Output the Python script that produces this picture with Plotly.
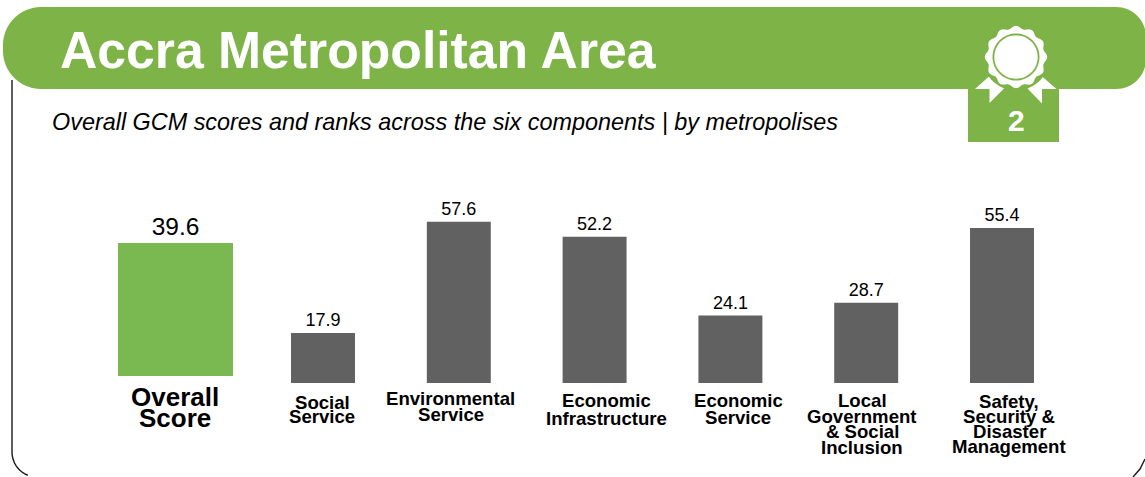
import math
import plotly.graph_objects as go

W, H = 1145, 477

overall_name = "Overall Score"
overall_value = 39.6
categories = [
    "Social Service",
    "Environmental Service",
    "Economic Infrastructure",
    "Economic Service",
    "Local Government & Social Inclusion",
    "Safety, Security & Disaster Management",
]
values = [17.9, 57.6, 52.2, 24.1, 28.7, 55.4]
label_lines = [
    ["Social", "Service"],
    ["Environmental", "Service"],
    ["Economic", "Infrastructure"],
    ["Economic", "Service"],
    ["Local", "Government", "& Social", "Inclusion"],
    ["Safety,", "Security &", "Disaster", "Management"],
]
title_text = "Accra Metropolitan Area"
subtitle_text = "Overall GCM scores and ranks across the six components | by metropolises"
rank = "2"

GREEN = "#7EB348"
BAR_GREEN = "#7AB851"
GREY = "#616161"
FONT = "Liberation Sans"

# Layout in page pixels, converted to paper fractions
px = lambda x: x / W
py = lambda y: 1 - y / H


def pt(x, y):
    return f"{px(x):.5f} {py(y):.5f}"


def path(points, close=True):
    d = "M " + " L ".join(pt(x, y) for x, y in points)
    return d + (" Z" if close else "")


def arc(cx, cy, r, a0, a1, n=16):
    return [(cx + r * math.cos(a0 + (a1 - a0) * i / n),
             cy + r * math.sin(a0 + (a1 - a0) * i / n)) for i in range(n + 1)]


def paper_shape(d, fill=None, line=None, width=0):
    return dict(type="path", xref="paper", yref="paper", path=d,
                fillcolor=fill or "rgba(0,0,0,0)",
                line=dict(color=line or "rgba(0,0,0,0)", width=width))


shapes = []

# Thin frame under the banner, open at the bottom edge of the page
left_frame = [(12, 80), (12, 452)] + arc(37, 452, 25, math.pi, math.pi * 0.62)
shapes.append(paper_shape(path(left_frame, close=False), line="#1a1a1a", width=1.4))
right_frame = [(1133, 477), (1140, 469), (1145, 459)]
shapes.append(paper_shape(path(right_frame, close=False), line="#1a1a1a", width=1.4))

# Banner with rounded ends
r = 38
top, bottom = 7, 89
left, right = 3, 1146
banner = (arc(left + r, top + r, r, math.pi, 1.5 * math.pi)
          + arc(right - 30, top + 30, 30, 1.5 * math.pi, 2 * math.pi)
          + arc(right - 30, bottom - 30, 30, 0, 0.5 * math.pi)
          + arc(left + r, bottom - r, r, 0.5 * math.pi, math.pi))
shapes.append(paper_shape(path(banner), fill=GREEN))

# Rank tab hanging below the banner
shapes.append(paper_shape(path([(968, 88), (1059, 88), (1059, 142), (968, 142)]), fill=GREEN))

# Rosette: two ribbon tails, a scalloped disc and an inner ring
shapes.append(paper_shape(path([(989.5, 76), (975, 89), (989.5, 89), (989.5, 103), (1004, 88.5)]), fill="white"))
shapes.append(paper_shape(path([(1041.5, 76), (1056.5, 89), (1042, 89), (1042, 103.5), (1027.5, 88.5)]), fill="white"))

cx, cy = 1016, 57
halo = [(cx + 33.5 * math.cos(i * math.pi / 60), cy + 33.5 * math.sin(i * math.pi / 60)) for i in range(120)]
shapes.append(paper_shape(path(halo), fill=GREEN))
scallop = []
for i in range(240):
    a = i * 2 * math.pi / 240
    rad = 29.8 + 1.4 * math.cos(12 * a)
    scallop.append((cx + rad * math.cos(a), cy + rad * math.sin(a)))
shapes.append(paper_shape(path(scallop), fill="white"))
ring = arc(cx, cy, 22.6, 0, 2 * math.pi, n=72)
shapes.append(paper_shape(path(ring), line=GREEN, width=1.8))

annotations = []


def page_text(text, x, y, size, color="black", bold=False, italic=False, anchor="left"):
    if bold:
        text = f"<b>{text}</b>"
    if italic:
        text = f"<i>{text}</i>"
    annotations.append(dict(text=text, xref="paper", yref="paper", x=px(x), y=py(y),
                            xanchor=anchor, yanchor="middle", showarrow=False,
                            font=dict(family=FONT, size=size, color=color)))


page_text(title_text, 57.5, 50, 51.7, color="white", bold=True)
page_text(subtitle_text, 50, 122, 23.4, italic=True)
page_text(rank, 1016, 121, 30, color="white", bold=True, anchor="center")

# Overall score caption
page_text("Overall", 175, 397, 26, bold=True, anchor="center")
page_text("Score", 175, 418, 26, bold=True, anchor="center")

# Component captions: one annotation per line for the tight leading
caption_shift = [-1, -8, 12, 8, -4, 7]
caption_top = [402.5, 398.5, 400.5, 400.5, 400.5, 401.5]
caption_lead = [14, 16, 18, 17, 15.5, 15]
for name, lines, shift, y0, lead in zip(categories, label_lines, caption_shift, caption_top, caption_lead):
    for i, line in enumerate(lines):
        annotations.append(dict(text=f"<b>{line}</b>", xref="x", yref="paper", x=name,
                                y=py(y0 + i * lead), xshift=shift, xanchor="center",
                                yanchor="middle", showarrow=False,
                                font=dict(family=FONT, size=18.6, color="black")))

fig = go.Figure()

# Components share one value axis
fig.add_bar(x=categories, y=values, marker=dict(color=GREY, line=dict(width=0)),
            text=[f"{v:.1f}" for v in values], textposition="outside",
            textfont=dict(family=FONT, size=18, color="black"),
            cliponaxis=False, xaxis="x", yaxis="y", showlegend=False)

# The overall score is its own larger panel
fig.add_bar(x=[overall_name], y=[overall_value], marker=dict(color=BAR_GREEN, line=dict(width=0)),
            text=[f"{overall_value:.1f}"], textposition="outside",
            textfont=dict(family=FONT, size=24.5, color="black"),
            cliponaxis=False, xaxis="x2", yaxis="y2", showlegend=False)

step = (1002 - 323) / 5
fig.update_layout(
    width=W, height=H,
    margin=dict(l=0, r=0, t=0, b=0),
    paper_bgcolor="white", plot_bgcolor="rgba(0,0,0,0)",
    bargap=0.529,
    showlegend=False,
    shapes=shapes,
    annotations=annotations,
    xaxis=dict(domain=[px(323 - step / 2), px(1002 + step / 2)], visible=False, type="category",
               anchor="y", fixedrange=True),
    yaxis=dict(domain=[py(383), py(383 - 60 * 2.8)], range=[0, 60], visible=False,
               anchor="x", fixedrange=True),
    xaxis2=dict(domain=[px(118 - 115 * 0.529 / 0.471 / 2), px(233 + 115 * 0.529 / 0.471 / 2)],
                visible=False, type="category", anchor="y2", fixedrange=True),
    yaxis2=dict(domain=[py(376), py(376 - 40 * 133 / 39.6)], range=[0, 40], visible=False,
                anchor="x2", fixedrange=True),
)

fig.write_html("out.html", config=dict(displayModeBar=False))
